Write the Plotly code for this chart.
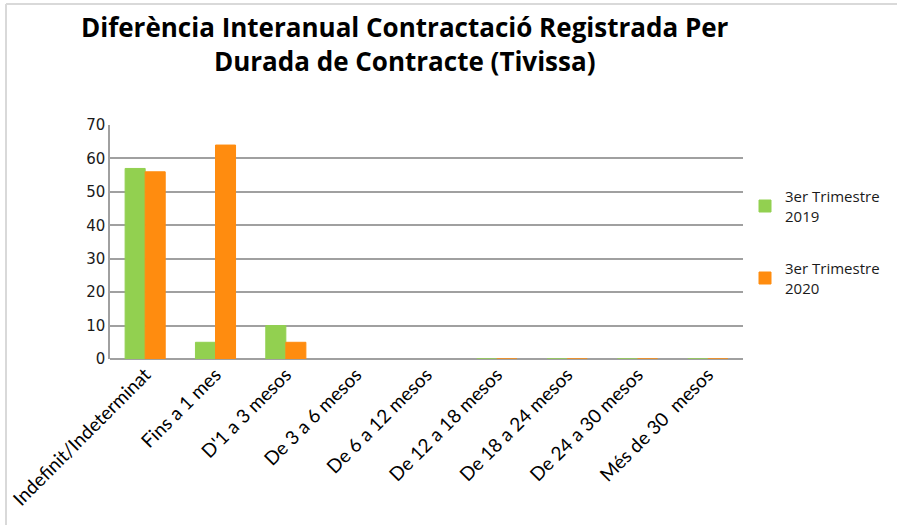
import plotly.graph_objects as go

categories = [
    "Indefinit/Indeterminat", "Fins a 1 mes", "D'1 a 3 mesos", "De 3 a 6 mesos",
    "De 6 a 12 mesos", "De 12 a 18 mesos", "De 18 a 24 mesos", "De 24 a 30 mesos",
    "Més de 30  mesos",
]
vals_2019 = [57, 5, 10, None, None, 0, 0, 0, 0]
vals_2020 = [56, 64, 5, None, None, 0, 0, 0, 0]
series_names = ["3er Trimestre<br>2019", "3er Trimestre<br>2020"]
colors = ["#92d050", "#ff8c0f"]
title_text = "<b>Diferència Interanual Contractació Registrada Per<br>Durada de Contracte (Tivissa)</b>"

W, H = 898, 525
L, R, T, B = 110, 155, 125, 166
pw, ph = W - L - R, H - T - B

fig = go.Figure()
for i, (name, vals, col) in enumerate(zip(series_names, [vals_2019, vals_2020], colors)):
    fig.add_trace(go.Bar(
        x=categories, y=vals, name=name, legendgroup=str(i),
        marker=dict(color=col, line=dict(color=col, width=1)),
    ))

fig.update_layout(
    width=W, height=H,
    margin=dict(l=L, r=R, t=T, b=B, autoexpand=False),
    paper_bgcolor="white", plot_bgcolor="white",
    barmode="group", bargap=0.43, bargroupgap=0,
    font=dict(family="Open Sans", color="#000000"),
    legend=dict(
        x=1 + 2 / pw, xanchor="left", y=0.5, yanchor="middle",
        font=dict(family="Open Sans", size=15, color="#1a1a1a"),
        tracegroupgap=30, itemwidth=30, bgcolor="rgba(0,0,0,0)",
    ),
    xaxis=dict(
        tickangle=-45, showgrid=False, showline=False, ticks="", automargin=False,
        tickfont=dict(family="Lato", size=19, color="#000000"),
    ),
    yaxis=dict(
        range=[0, 70], dtick=10, showgrid=True, gridcolor="#a0a0a0", gridwidth=1.5,
        showline=True, linecolor="#a0a0a0", linewidth=1.5, zeroline=True,
        zerolinecolor="#a0a0a0", zerolinewidth=1.5, ticks="", ticklen=0, automargin=False,
        tickfont=dict(family="DejaVu Sans", size=15, color="#1a1a1a"),
    ),
)

# Two-line bold heading above the plot
fig.add_annotation(
    text=title_text, xref="paper", yref="paper",
    x=(405 - L) / pw, xanchor="center", y=1 + (T - 7) / ph, yanchor="top",
    showarrow=False, align="center",
    font=dict(family="Open Sans", size=26, color="#000000"),
)

# Light frame along the top and left edges of the chart area
fig.add_shape(type="line", xref="paper", yref="paper",
              x0=(6 - L) / pw, x1=(897 - L) / pw, y0=1 + (T - 4) / ph, y1=1 + (T - 4) / ph,
              line=dict(color="#d9d9d9", width=2))
fig.add_shape(type="line", xref="paper", yref="paper",
              x0=(6 - L) / pw, x1=(6 - L) / pw, y0=1 + (T - 4) / ph, y1=-(B) / ph,
              line=dict(color="#d9d9d9", width=2))

fig.write_html("out.html")
